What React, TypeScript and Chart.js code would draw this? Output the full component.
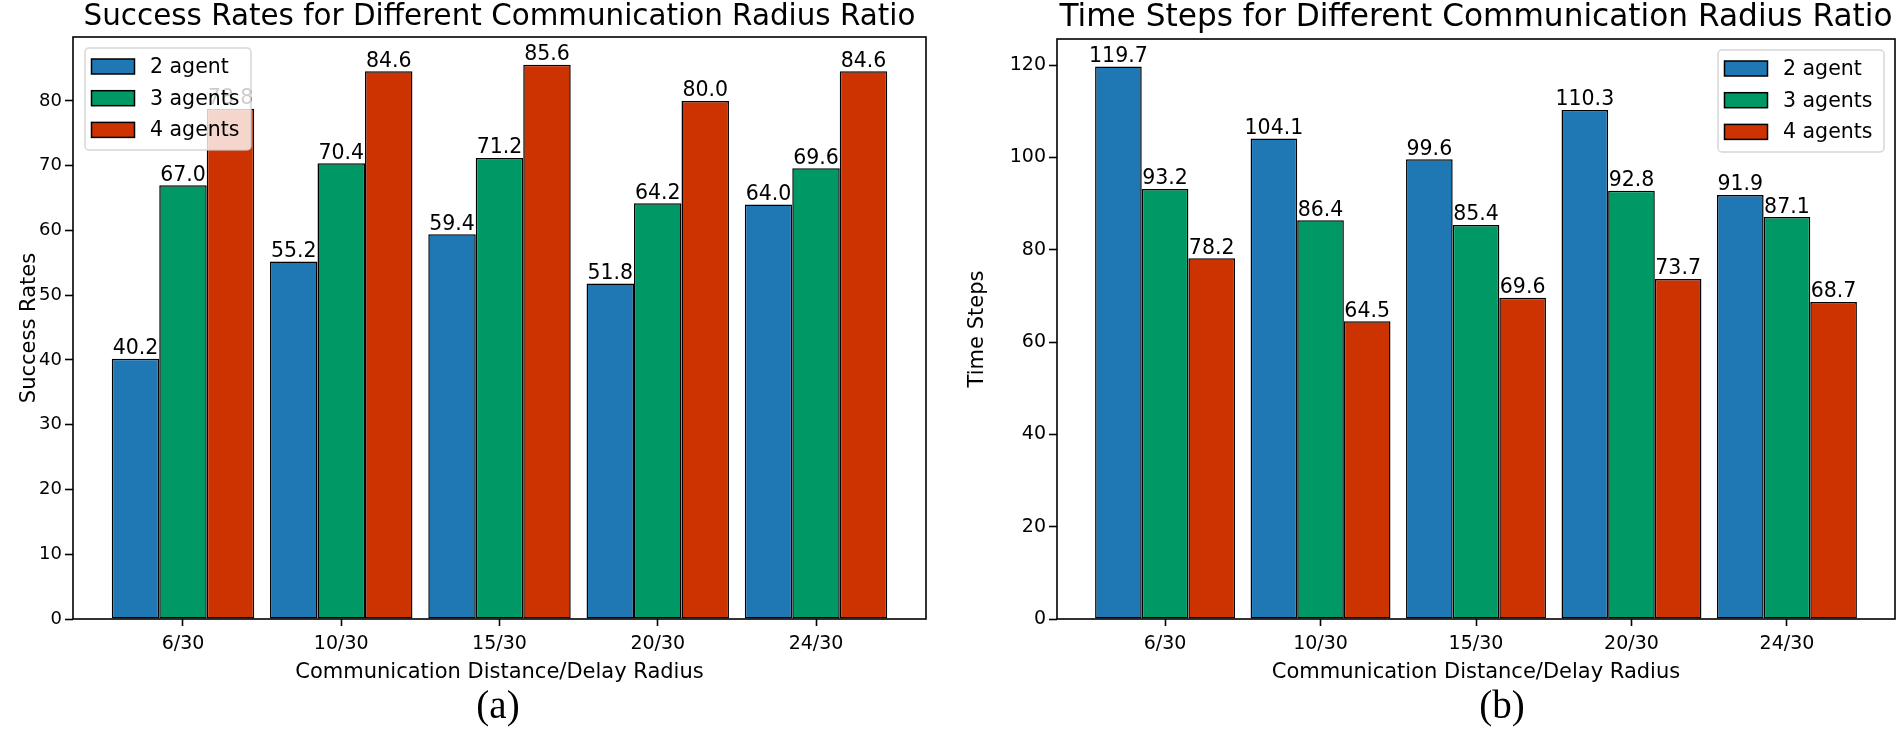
import React, { useEffect, useRef } from "react";
import { Chart, registerables } from "chart.js";

Chart.register(...registerables);

const categories = ["6/30", "10/30", "15/30", "20/30", "24/30"];
const seriesNames = ["2 agent", "3 agents", "4 agents"];

const successTwo = [40.2, 55.2, 59.4, 51.8, 64.0];
const successThree = [67.0, 70.4, 71.2, 64.2, 69.6];
const successFour = [78.8, 84.6, 85.6, 80.0, 84.6];

const stepsTwo = [119.7, 104.1, 99.6, 110.3, 91.9];
const stepsThree = [93.2, 86.4, 85.4, 92.8, 87.1];
const stepsFour = [78.2, 64.5, 69.6, 73.7, 68.7];

const successTicks = [0, 10, 20, 30, 40, 50, 60, 70, 80];
const stepsTicks = [0, 20, 40, 60, 80, 100, 120];

const colors = ["#1f77b4", "#009966", "#cc3300"];
const FONT = "'DejaVu Sans', sans-serif";

type Params = {
  series: number[][];
  ticks: number[];
  yMax: number;
  title: string;
  titleSize: number;
  yTitle: string;
  legendSide: "left" | "right";
  caption: string;
  captionX: number;
  yAxisWidth: number;
  yTitlePad: number;
  yTickSize: number;
  yTickPad: number;
  rightPad: number;
  topPad: number;
  titleBaseline: number;
};

function roundRect(ctx: CanvasRenderingContext2D, x: number, y: number, w: number, h: number, r: number) {
  ctx.beginPath();
  ctx.moveTo(x + r, y);
  ctx.lineTo(x + w - r, y);
  ctx.arcTo(x + w, y, x + w, y + r, r);
  ctx.lineTo(x + w, y + h - r);
  ctx.arcTo(x + w, y + h, x + w - r, y + h, r);
  ctx.lineTo(x + r, y + h);
  ctx.arcTo(x, y + h, x, y + h - r, r);
  ctx.lineTo(x, y + r);
  ctx.arcTo(x, y, x + r, y, r);
  ctx.closePath();
}

function makeConfig(p: Params): any {
  const decorPlugin = {
    id: "decor",
    afterDatasetsDraw(chart: any) {
      const ctx: CanvasRenderingContext2D = chart.ctx;
      const ca = chart.chartArea;
      ctx.save();
      // axes frame
      ctx.strokeStyle = "#000";
      ctx.lineWidth = 1.6;
      ctx.strokeRect(ca.left, ca.top, ca.right - ca.left, ca.bottom - ca.top);
      // bar value labels
      ctx.fillStyle = "#000";
      ctx.font = `20.5px ${FONT}`;
      ctx.textAlign = "center";
      ctx.textBaseline = "alphabetic";
      chart.data.datasets.forEach((ds: any, di: number) => {
        const meta = chart.getDatasetMeta(di);
        meta.data.forEach((el: any, i: number) => {
          const v = ds.data[i].y;
          ctx.fillText(v.toFixed(1), el.x, el.y - 4.5);
        });
      });
      // legend (drawn over the labels, semi-transparent)
      const w = 166;
      const h = 102;
      const lx = p.legendSide === "left" ? ca.left + 12 : ca.right - 11 - w;
      const ly = ca.top + 11;
      roundRect(ctx, lx, ly, w, h, 4);
      ctx.fillStyle = "rgba(255,255,255,0.8)";
      ctx.fill();
      ctx.strokeStyle = "rgba(204,204,204,0.8)";
      ctx.lineWidth = 1.5;
      ctx.stroke();
      ctx.font = `20.5px ${FONT}`;
      ctx.textAlign = "left";
      ctx.textBaseline = "middle";
      seriesNames.forEach((name, i) => {
        const cy = ly + 18.5 + i * 31.7;
        ctx.fillStyle = colors[i];
        ctx.fillRect(lx + 6.5, cy - 7.5, 43, 15);
        ctx.strokeStyle = "#000";
        ctx.lineWidth = 1.5;
        ctx.strokeRect(lx + 6.5, cy - 7.5, 43, 15);
        ctx.fillStyle = "#000";
        ctx.fillText(name, lx + 65, cy + 1);
      });
      ctx.restore();
    },
    afterDraw(chart: any) {
      const ctx: CanvasRenderingContext2D = chart.ctx;
      const ca = chart.chartArea;
      ctx.save();
      ctx.fillStyle = "#000";
      ctx.font = `${p.titleSize}px ${FONT}`;
      ctx.textAlign = "center";
      ctx.textBaseline = "alphabetic";
      ctx.fillText(p.title, (ca.left + ca.right) / 2, p.titleBaseline);
      ctx.font = `39px 'Liberation Serif', serif`;
      ctx.textBaseline = "middle";
      ctx.fillText(p.caption, p.captionX, 708);
      ctx.restore();
    },
  };

  const tickGrid = (len: number) => ({
    display: true,
    drawOnChartArea: false,
    drawTicks: true,
    tickLength: len,
    tickWidth: 1.6,
    tickColor: "#000",
    offset: false,
  });

  return {
    type: "bar",
    data: {
      datasets: p.series.map((vals, si) => ({
        label: seriesNames[si],
        data: vals.map((v, i) => ({ x: i, y: v })),
        backgroundColor: colors[si],
        borderColor: "#000",
        borderWidth: 1.5,
        borderSkipped: false,
        categoryPercentage: 0.9,
        barPercentage: 1.0,
      })),
    },
    options: {
      responsive: false,
      animation: false,
      layout: { padding: { left: 0, right: p.rightPad, top: p.topPad, bottom: 0 } },
      plugins: {
        legend: { display: false },
        tooltip: { enabled: false },
        title: { display: false },
      },
      scales: {
        x: {
          type: "linear",
          min: -0.695,
          max: 4.695,
          offset: false,
          grid: tickGrid(7),
          border: { display: false },
          afterBuildTicks: (s: any) => {
            s.ticks = categories.map((_, i) => ({ value: i }));
          },
          afterFit: (s: any) => {
            s.height = 114;
          },
          ticks: {
            callback: (v: any) => categories[v] ?? "",
            color: "#000",
            font: { size: 19, family: FONT },
            padding: 7,
            maxRotation: 0,
            autoSkip: false,
          },
          title: {
            display: true,
            text: "Communication Distance/Delay Radius",
            color: "#000",
            font: { size: 21, family: FONT, lineHeight: 1.2 },
            padding: { top: 0, bottom: 47.4 },
          },
        },
        y: {
          type: "linear",
          min: 0,
          max: p.yMax,
          grid: tickGrid(8),
          border: { display: false },
          afterBuildTicks: (s: any) => {
            s.ticks = p.ticks.map((v) => ({ value: v }));
          },
          afterFit: (s: any) => {
            s.width = p.yAxisWidth;
          },
          ticks: {
            color: "#000",
            font: { size: p.yTickSize, family: FONT },
            padding: p.yTickPad,
          },
          title: {
            display: true,
            text: p.yTitle,
            color: "#000",
            font: { size: 21, family: FONT, lineHeight: 1.2 },
            padding: { top: p.yTitlePad, bottom: 0 },
          },
        },
      },
    },
    plugins: [decorPlugin],
  };
}

export default function App() {
  const leftRef = useRef<HTMLCanvasElement | null>(null);
  const rightRef = useRef<HTMLCanvasElement | null>(null);

  useEffect(() => {
    document.body.style.margin = "0";
    const left = new Chart(
      leftRef.current as HTMLCanvasElement,
      makeConfig({
        series: [successTwo, successThree, successFour],
        ticks: successTicks,
        yMax: 89.88,
        title: "Success Rates for Different Communication Radius Ratio",
        titleSize: 29.4,
        yTitle: "Success Rates",
        legendSide: "left",
        caption: "(a)",
        captionX: 498,
        yAxisWidth: 73,
        yTitlePad: 17.4,
        yTickSize: 18,
        yTickPad: 3,
        rightPad: 24,
        topPad: 37,
        titleBaseline: 25,
      })
    );
    const right = new Chart(
      rightRef.current as HTMLCanvasElement,
      makeConfig({
        series: [stepsTwo, stepsThree, stepsFour],
        ticks: stepsTicks,
        yMax: 125.685,
        title: "Time Steps for Different Communication Radius Ratio",
        titleSize: 31.2,
        yTitle: "Time Steps",
        legendSide: "right",
        caption: "(b)",
        captionX: 552,
        yAxisWidth: 107,
        yTitlePad: 15.4,
        yTickSize: 19,
        yTickPad: 3,
        rightPad: 5,
        topPad: 39,
        titleBaseline: 26,
      })
    );
    return () => {
      left.destroy();
      right.destroy();
    };
  }, []);

  return (
    <div style={{ position: "relative", width: 1900, height: 733, background: "#fff" }}>
      <canvas
        ref={leftRef}
        width={950}
        height={733}
        style={{ position: "absolute", left: 0, top: 0, width: 950, height: 733 }}
      />
      <canvas
        ref={rightRef}
        width={950}
        height={733}
        style={{ position: "absolute", left: 950, top: 0, width: 950, height: 733 }}
      />
    </div>
  );
}
